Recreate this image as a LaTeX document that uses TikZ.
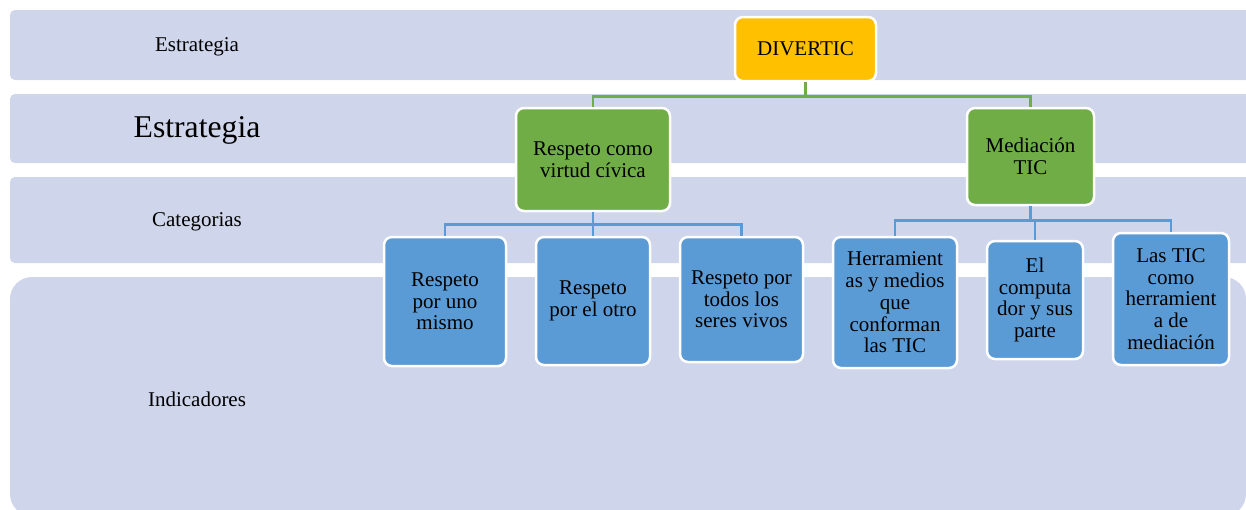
\documentclass[tikz,border=0pt]{standalone}
\usepackage{fontspec}
\setmainfont{Liberation Serif}
\definecolor{band}{RGB}{207,213,234}
\definecolor{orangebox}{RGB}{255,192,0}
\definecolor{greenbox}{RGB}{112,173,71}
\definecolor{bluebox}{RGB}{91,155,213}
\begin{document}
\begin{tikzpicture}[x=1pt,y=-1pt,
  box/.style={rounded corners=8pt, draw=white, line width=2.5pt, align=center,
    inner sep=1pt, text=black, font=\fontsize{21}{21.7}\selectfont},
  obox/.style={box, fill=orangebox},
  gbox/.style={box, fill=greenbox},
  bbox/.style={box, fill=bluebox},
  bandlabel/.style={text=black, font=\fontsize{21}{24}\selectfont},
  glink/.style={draw=greenbox, line width=2.5pt},
  blink/.style={draw=bluebox, line width=2.5pt}]
\useasboundingbox (0,0) rectangle (1246,509);
\clip (0,0) rectangle (1246,509);
% bands
\fill[band, rounded corners=5pt] (10,10) rectangle (1270,80);
\fill[band, rounded corners=5pt] (10,94) rectangle (1270,163);
\fill[band, rounded corners=5pt] (10,177) rectangle (1270,263);
\fill[band, rounded corners=22pt] (10,277) rectangle (1246,516);
% band labels
\node[bandlabel] (l1) at (197,47) {Estrategia};
\node[bandlabel, font=\fontsize{31.7}{34}\selectfont] (l2) at (197,130) {Estrategia};
\node[bandlabel] (l3) at (197,222) {Categorias};
\node[bandlabel] (l4) at (197,399) {Indicadores};
% boxes
\node[obox, minimum width=141pt, minimum height=64pt] (div) at (805.5,49) {DIVERTIC};
\node[gbox, minimum width=154pt, minimum height=103pt] (resp) at (593,159.5) {Respeto como\\virtud cívica};
\node[gbox, minimum width=127pt, minimum height=97pt] (med) at (1030.5,156.5) {Mediación\\TIC};
\node[bbox, minimum width=122pt, minimum height=129pt] (b1) at (445,301.5) {Respeto\\por uno\\mismo};
\node[bbox, minimum width=114pt, minimum height=128pt] (b2) at (593,301) {Respeto\\por el otro};
\node[bbox, minimum width=123pt, minimum height=125pt] (b3) at (741.5,299.5) {Respeto por\\todos los\\seres vivos};
\node[bbox, minimum width=124pt, minimum height=131pt] (b4) at (895,302.5) {Herramient\\as y medios\\que\\conforman\\las TIC};
\node[bbox, minimum width=96pt, minimum height=118pt] (b5) at (1035,300) {El\\computa\\dor y sus\\parte};
\node[bbox, minimum width=116pt, minimum height=132pt] (b6) at (1171,299) {Las TIC\\como\\herramient\\a de\\mediación};
% connectors
\coordinate (dj) at ([yshift=-14pt]div.south);
\coordinate (rj) at ([yshift=-12pt]resp.south);
\coordinate (mj) at ([yshift=-14pt]med.south);
\draw[glink] (div.south) -- (dj) -| (resp.north);
\draw[glink] (dj) -| (med.north);
\draw[blink] (resp.south) -- (rj) -| (b1.north);
\draw[blink] (rj) -| (b3.north);
\draw[blink] (resp.south) -- (b2.north);
\draw[blink] (med.south) -- (mj) -| (b4.north);
\draw[blink] (mj) -| (b6.north);
\draw[blink] (mj) -| (b5.north);
\end{tikzpicture}
\end{document}
